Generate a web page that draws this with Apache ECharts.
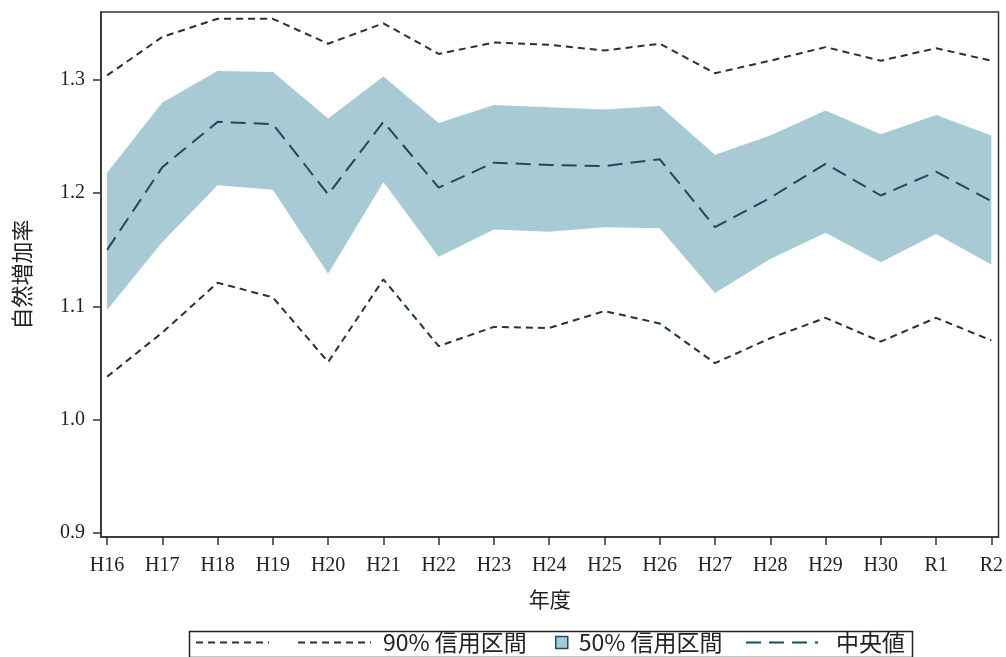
<!DOCTYPE html>
<html><head><meta charset="utf-8">
<script src="https://cdn.jsdelivr.net/npm/echarts@6/dist/echarts.min.js"></script>
<style>html,body{margin:0;padding:0;background:#fff}#c{width:1006px;height:657px}</style>
</head><body><div id="c"></div>
<script>
const categories = ['H16','H17','H18','H19','H20','H21','H22','H23','H24','H25','H26','H27','H28','H29','H30','R1','R2'];
const median  = [1.150,1.223,1.263,1.261,1.199,1.263,1.205,1.227,1.225,1.224,1.230,1.170,1.196,1.226,1.198,1.219,1.193];
const upper90 = [1.304,1.338,1.354,1.354,1.332,1.350,1.323,1.333,1.331,1.326,1.332,1.306,1.317,1.329,1.317,1.328,1.317];
const lower90 = [1.038,1.077,1.121,1.108,1.051,1.124,1.065,1.082,1.081,1.096,1.085,1.050,1.072,1.090,1.069,1.090,1.070];
const upper50 = [1.218,1.280,1.308,1.307,1.266,1.303,1.262,1.278,1.276,1.274,1.277,1.234,1.251,1.273,1.252,1.269,1.251];
const lower50 = [1.097,1.157,1.207,1.203,1.129,1.210,1.144,1.168,1.166,1.170,1.169,1.112,1.142,1.165,1.139,1.164,1.137];
const yTicks = [0.9,1.0,1.1,1.2,1.3];

const idx = categories.map((_, i) => i);
const pts = arr => arr.map((v, i) => [i, v]);

const font = "'Liberation Serif','Noto Sans CJK JP',serif";
const lgFont = "'Liberation Sans Narrow','Noto Sans CJK JP',sans-serif";
const dark90 = '#1f3440';
const medC = '#1b4b5e';
const bandC = '#a7cad4';

const chart = echarts.init(document.getElementById('c'), null, {renderer: 'canvas'});
chart.setOption({
  animation: false,
  backgroundColor: '#fff',
  grid: {left: 101, right: 6, top: 12, bottom: 120, show: true, borderColor: '#333', borderWidth: 1.5, backgroundColor: 'transparent'},
  xAxis: {
    type: 'value', min: -0.11, max: 16.13,
    name: '年度', nameLocation: 'middle', nameGap: 54,
    nameTextStyle: {fontFamily: font, fontSize: 21, color: '#222'},
    axisLine: {show: true, onZero: false, lineStyle: {color: '#333', width: 1.5}},
    axisTick: {show: true, length: 8, customValues: idx, lineStyle: {color: '#333', width: 1.5}},
    axisLabel: {customValues: idx, formatter: v => categories[Math.round(v)] ?? '', fontFamily: font, fontSize: 20, color: '#222', margin: 19},
    splitLine: {show: false}
  },
  yAxis: {
    type: 'value', min: 0.8965, max: 1.36,
    name: '自然増加率', nameLocation: 'middle', nameGap: 66, nameRotate: 90,
    nameTextStyle: {fontFamily: font, fontSize: 22, color: '#222'},
    axisLine: {show: true, onZero: false, lineStyle: {color: '#333', width: 1.5}},
    axisTick: {show: true, length: 8, customValues: yTicks, lineStyle: {color: '#333', width: 1.5}},
    axisLabel: {customValues: yTicks, formatter: v => v.toFixed(1), fontFamily: font, fontSize: 20, color: '#222', margin: 16},
    splitLine: {show: false}
  },
  graphic: [{
    type: 'rect', left: 187, top: 629, shape: {width: 723, height: 26},
    style: {fill: 'none', stroke: '#222', lineWidth: 1.5}, silent: true, z: 0
  }],
  legend: [
    {
      left: 195, top: 631, padding: 0, itemGap: 27, itemWidth: 73, itemHeight: 14,
      textStyle: {fontFamily: lgFont, fontSize: 23, color: '#222', padding: [0, 0, 0, 7]},
      formatter: name => name === '90%下限' ? '' : name,
      data: [
        {name: '90%下限', itemStyle: {opacity: 0}},
        {name: '90% 信用区間', itemStyle: {opacity: 0}}
      ]
    },
    {
      left: 555, top: 631, padding: 0, itemWidth: 12, itemHeight: 12,
      textStyle: {fontFamily: lgFont, fontSize: 23, color: '#222', padding: [0, 0, 0, 6]},
      data: [{name: '50% 信用区間', icon: 'rect', itemStyle: {color: bandC, borderColor: '#1d4f66', borderWidth: 1.5}}]
    },
    {
      left: 745, top: 631, padding: 0, itemWidth: 72, itemHeight: 14,
      textStyle: {fontFamily: lgFont, fontSize: 23, color: '#222', padding: [0, 0, 0, 13]},
      data: [{name: '中央値', itemStyle: {opacity: 0}}]
    }
  ],
  series: [
    {
      name: '50% 信用区間', type: 'custom', data: idx, z: 1, silent: true,
      itemStyle: {color: bandC},
      renderItem: (params, api) => {
        if (params.dataIndex !== 0) return null;
        const top = upper50.map((v, i) => api.coord([i, v]));
        const bot = lower50.map((v, i) => api.coord([i, v])).reverse();
        return {type: 'polygon', shape: {points: top.concat(bot)}, style: {fill: bandC, stroke: null}};
      }
    },
    {name: '90%下限', type: 'line', data: pts(lower90), symbol: 'none', lineStyle: {color: dark90, width: 2, type: [7, 5]}, itemStyle: {color: dark90}, z: 3},
    {name: '90% 信用区間', type: 'line', data: pts(upper90), symbol: 'none', lineStyle: {color: dark90, width: 2, type: [7, 5]}, itemStyle: {color: dark90}, z: 3},
    {name: '中央値', type: 'line', data: pts(median), symbol: 'none', lineStyle: {color: medC, width: 2, type: [15, 8]}, itemStyle: {color: medC}, z: 3}
  ]
});
</script></body></html>
